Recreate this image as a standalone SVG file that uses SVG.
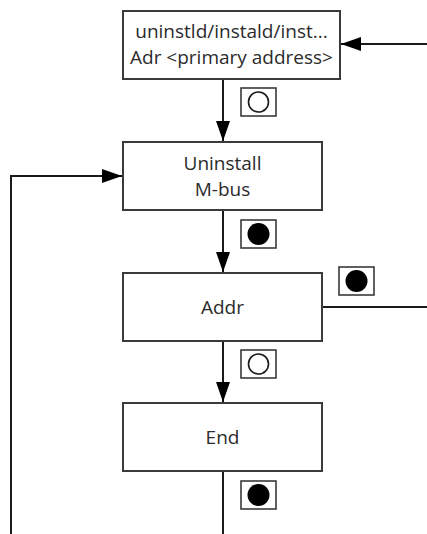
<svg xmlns="http://www.w3.org/2000/svg" width="427" height="534" viewBox="0 0 427 534">
  <style>
    .node rect { fill: #ffffff; stroke: #3a3a3a; stroke-width: 2; }
    .node text { font-family: "Open Sans", "Liberation Sans", sans-serif; font-size: 19px; fill: #2b2b2b; text-anchor: middle; }
    .edge { fill: none; stroke: #1a1a1a; stroke-width: 2; }
    .badge rect { fill: #ffffff; stroke: #3a3a3a; stroke-width: 1.6; }
    .badge .off { fill: #ffffff; stroke: #1a1a1a; stroke-width: 1.6; }
    .badge .on { fill: #000000; }
  </style>
  <defs>
    <marker id="arrow" viewBox="0 0 20 14" refX="20" refY="7" markerWidth="20" markerHeight="14" markerUnits="userSpaceOnUse" orient="auto">
      <path d="M0,0 L20,7 L0,14 Z" fill="#000000"/>
    </marker>
  </defs>

  <rect x="0" y="0" width="427" height="534" fill="#ffffff"/>

  <!-- connectors -->
  <g id="connectors">
    <path class="edge" d="M427,44 L341,44" marker-end="url(#arrow)"/>
    <path class="edge" d="M223,79 L223,141" marker-end="url(#arrow)"/>
    <path class="edge" d="M11,534 L11,176 L122,176" marker-end="url(#arrow)"/>
    <path class="edge" d="M223,210 L223,272" marker-end="url(#arrow)"/>
    <path class="edge" d="M322,307 L427,307"/>
    <path class="edge" d="M223,341 L223,402" marker-end="url(#arrow)"/>
    <path class="edge" d="M223,471 L223,534"/>
  </g>

  <!-- transition badges -->
  <g id="badges">
    <g class="badge" transform="translate(241,88)">
      <rect x="0" y="0" width="35" height="28"/>
      <circle class="off" cx="17.5" cy="14" r="10"/>
    </g>
    <g class="badge" transform="translate(241,220)">
      <rect x="0" y="0" width="35" height="28"/>
      <circle class="on" cx="17.5" cy="14" r="11"/>
    </g>
    <g class="badge" transform="translate(339,267)">
      <rect x="0" y="0" width="35" height="28"/>
      <circle class="on" cx="17.5" cy="14" r="11"/>
    </g>
    <g class="badge" transform="translate(241,350)">
      <rect x="0" y="0" width="35" height="28"/>
      <circle class="off" cx="17.5" cy="14" r="10"/>
    </g>
    <g class="badge" transform="translate(241,481)">
      <rect x="0" y="0" width="35" height="28"/>
      <circle class="on" cx="17.5" cy="14" r="11"/>
    </g>
  </g>

  <!-- states -->
  <g id="node-start" class="node">
    <rect x="123" y="11" width="217" height="68"/>
    <text x="231.5" y="38">uninstld/instald/inst...</text>
    <text x="231.5" y="64">Adr &lt;primary address&gt;</text>
  </g>
  <g id="node-uninstall" class="node">
    <rect x="123" y="142" width="199" height="68"/>
    <text x="222.5" y="170">Uninstall</text>
    <text x="222.5" y="196">M-bus</text>
  </g>
  <g id="node-addr" class="node">
    <rect x="123" y="273" width="199" height="68"/>
    <text x="222.5" y="314">Addr</text>
  </g>
  <g id="node-end" class="node">
    <rect x="123" y="403" width="199" height="68"/>
    <text x="222.5" y="444">End</text>
  </g>
</svg>
